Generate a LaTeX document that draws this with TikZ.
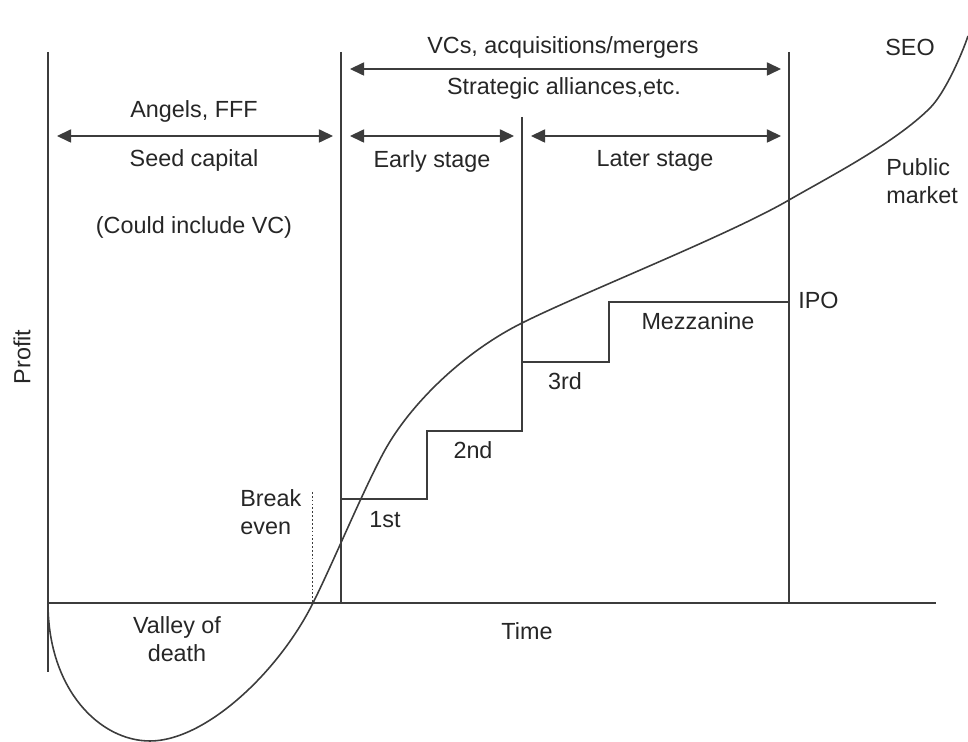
\documentclass[tikz,border=0pt]{standalone}
\usepackage{fontspec}
\setmainfont{Liberation Sans}
\usetikzlibrary{arrows.meta}

\definecolor{inkline}{HTML}{3C3C3C}
\definecolor{inktext}{HTML}{262626}

\tikzset{
  rule/.style={inkline, line width=0.6pt},
  span/.style={inkline, line width=0.7pt,
    {Triangle[length=8pt,width=7.5pt]}-{Triangle[length=8pt,width=7.5pt]}},
  lbl/.style={inktext, inner sep=0pt, font=\fontsize{13.3}{16}\selectfont},
  curve/.style={inkline, line width=0.9pt},
}

\begin{document}
\begin{tikzpicture}[x=0.02cm,y=-0.02cm]
\useasboundingbox (0,0) rectangle (968,742);

% axes
\draw[rule] (48,52) -- (48,672);
\draw[rule] (48,603) -- (936,603);

% stage boundaries
\draw[rule] (341,52) -- (341,603);
\draw[rule] (789,52) -- (789,603);
\draw[rule] (522,117) -- (522,431);
\draw[inkline, line width=0.5pt, dash pattern=on 1pt off 1.2pt] (312,492) -- (312,603);

% funding rounds (steps)
\draw[rule] (341,499) -- (427,499) -- (427,431) -- (522,431) -- (522,362)
  -- (609,362) -- (609,302) -- (789,302);

% span arrows
\coordinate (seedL)  at (57,136);
\coordinate (seedR)  at (333,136);
\coordinate (vcL)    at (350,69);
\coordinate (vcR)    at (781,69);
\coordinate (earlyL) at (350,136);
\coordinate (earlyR) at (514,136);
\coordinate (laterL) at (531,136);
\coordinate (laterR) at (781,136);

\draw[span] (seedL) -- (seedR);
\draw[span] (vcL) -- (vcR);
\draw[span] (earlyL) -- (earlyR);
\draw[span] (laterL) -- (laterR);

% labels
\node[lbl] (angels)    at (194,111) {Angels, FFF};
\node[lbl] (seed)      at (194,160) {Seed capital};
\node[lbl] (couldvc)   at (194,227) {(Could include VC)};
\node[lbl] (vcs)       at (563,47)  {VCs, acquisitions/mergers};
\node[lbl] (strategic) at (564,88)  {Strategic alliances,etc.};
\node[lbl] (early)     at (432,161) {Early stage};
\node[lbl] (later)     at (655,161) {Later stage};
\node[lbl] (seo)       at (910,47)  {SEO};
\node[lbl, anchor=west, align=left] (public) at (886,181) {Public\\market};
\node[lbl, anchor=west] (ipo) at (798,300) {IPO};
\node[lbl] (mezz)      at (698,321) {Mezzanine};
\node[lbl] (third)     at (565,381) {3rd};
\node[lbl] (second)    at (473,450) {2nd};
\node[lbl] (first)     at (385,520) {1st};
\node[lbl, anchor=west, align=left] (breakeven) at (240,512) {Break\\even};
\node[lbl, align=center] (valley) at (177,639) {Valley of\\death};
\node[lbl] (time)      at (527,631) {Time};
\node[lbl, rotate=90] (profit) at (22,357) {Profit};

% profit curve
\draw[curve] (48,603) .. controls (48,690) and (100,741) .. (150,741)
  .. controls (205,741) and (278,673) .. (313,603)
  .. controls (333,563) and (365,486) .. (385,450)
  .. controls (410,405) and (462,353) .. (522,323)
  .. controls (582,293) and (729,235) .. (789,200)
  .. controls (829,177) and (895,143) .. (930,108)
  .. controls (945,93) and (962,54) .. (968,36);
\end{tikzpicture}
\end{document}
